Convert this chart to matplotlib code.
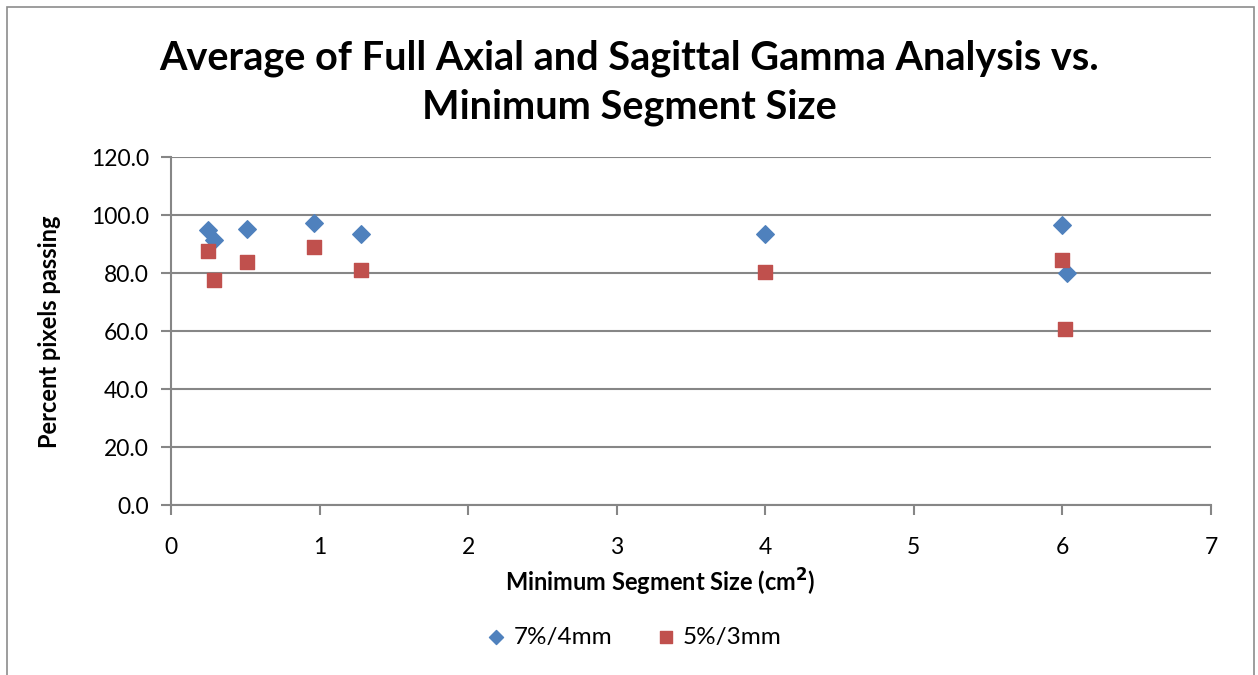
import matplotlib
matplotlib.use("Agg")
import matplotlib.pyplot as plt
from matplotlib.patches import Rectangle

# Minimum segment size (cm^2) and percent of pixels passing gamma
x_74 = [0.25, 0.29, 0.51, 0.96, 1.28, 4.0, 6.0, 6.03]
y_74 = [95.0, 91.5, 95.1, 97.2, 93.3, 93.5, 96.7, 80.0]
x_53 = [0.25, 0.29, 0.51, 0.96, 1.28, 4.0, 6.0, 6.02]
y_53 = [87.6, 77.7, 83.9, 88.9, 81.2, 80.4, 84.4, 60.6]

xticks = [0, 1, 2, 3, 4, 5, 6, 7]
yticks = [0, 20, 40, 60, 80, 100, 120]

plt.rcParams['font.family'] = ['Lato', 'DejaVu Sans']

fig = plt.figure(figsize=(12.58, 6.75), dpi=100)
fig.patches.append(Rectangle((7 / 1258, -0.1), 1247 / 1258, 1.1 - 7 / 675,
                             transform=fig.transFigure, fill=False,
                             edgecolor='#8c8c8c', linewidth=1.2))

ax = fig.add_axes([171 / 1258, 1 - 505 / 675, (1211 - 171) / 1258, (505 - 157) / 675])

ax.scatter(x_74, y_74, marker='D', s=80, color='#4F81BD', label='7%/4mm', zorder=3)
ax.scatter(x_53, y_53, marker='s', s=115, color='#C0504D', label='5%/3mm', zorder=3)

ax.set_xlim(0, 7)
ax.set_ylim(0, 120)
ax.set_xticks(xticks)
ax.set_yticks(yticks)
ax.set_yticklabels([f'{v:.1f}' for v in yticks])
ax.grid(axis='y', color='#868686', linewidth=1.5)
ax.set_axisbelow(True)
for s in ['top', 'right']:
    ax.spines[s].set_visible(False)
for s in ['left', 'bottom']:
    ax.spines[s].set_color('#868686')
    ax.spines[s].set_linewidth(1.5)
ax.tick_params(axis='both', colors='#868686', length=7, width=1.5, labelsize=16.5,
               labelcolor='black')
ax.tick_params(axis='y', pad=9)
ax.tick_params(axis='x', pad=16)

fig.text(0.5, 1 - 58 / 675, 'Average of Full Axial and Sagittal Gamma Analysis vs.',
         ha='center', va='center', fontsize=28.5, fontweight='bold')
fig.text(0.5, 1 - 107 / 675, 'Minimum Segment Size',
         ha='center', va='center', fontsize=28.5, fontweight='bold')
fig.text(50 / 1258, 1 - 332 / 675, 'Percent pixels passing', rotation=90,
         ha='center', va='center', fontsize=17, fontweight='bold')
fig.text(660 / 1258, 1 - 582 / 675, 'Minimum Segment Size (cm$^\\mathbf{2}$)',
         ha='center', va='center', fontsize=17, fontweight='bold')

fig.legend(loc='center', bbox_to_anchor=(634 / 1258, 1 - 637 / 675), ncol=2,
           frameon=False, fontsize=17.5, handlelength=0.8, handletextpad=0.3,
           columnspacing=1.8, markerscale=0.8)

fig.savefig('out.png', dpi=100)
